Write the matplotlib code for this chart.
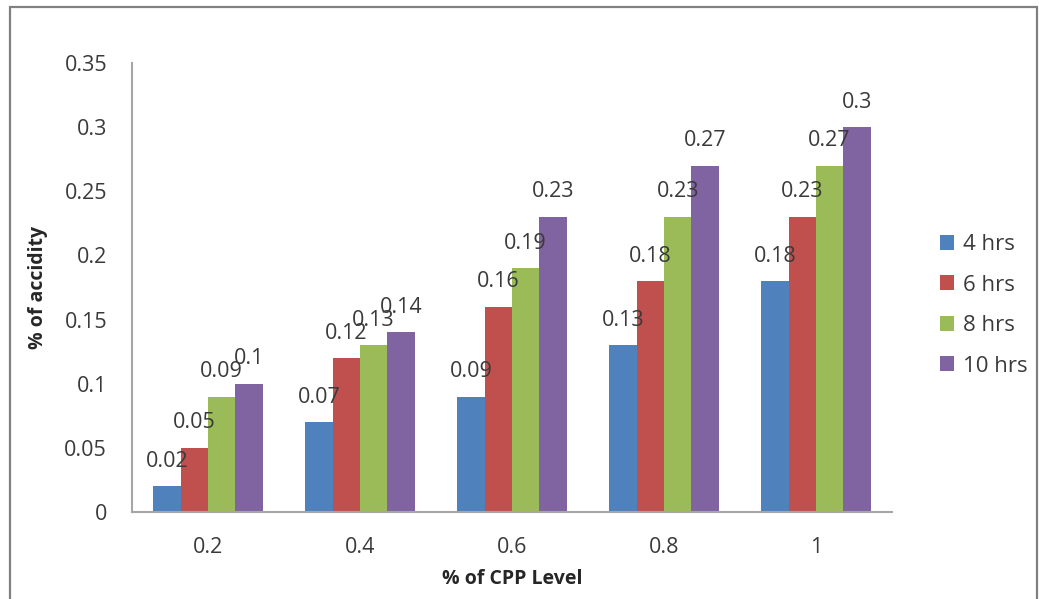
import numpy as np
import matplotlib
matplotlib.use('Agg')
import matplotlib.pyplot as plt
from matplotlib.patches import Rectangle

plt.rcParams['font.family'] = ['Open Sans', 'DejaVu Sans']

cpp_levels = ['0.2', '0.4', '0.6', '0.8', '1']
hours = ['4 hrs', '6 hrs', '8 hrs', '10 hrs']
acid_4h = [0.02, 0.07, 0.09, 0.13, 0.18]
acid_6h = [0.05, 0.12, 0.16, 0.18, 0.23]
acid_8h = [0.09, 0.13, 0.19, 0.23, 0.27]
acid_10h = [0.1, 0.14, 0.23, 0.27, 0.3]
colors = ['#4F81BD', '#C0504D', '#9BBB59', '#8064A2']

series = [acid_4h, acid_6h, acid_8h, acid_10h]
x = np.arange(len(cpp_levels))
w = 0.18
txt = '#3a3a3a'

fig = plt.figure(figsize=(10.39, 5.99), dpi=100)
ax = fig.add_axes([132 / 1039, 1 - 512 / 599, 760 / 1039, 449 / 599])

for i, (vals, name, c) in enumerate(zip(series, hours, colors)):
    pos = x + (i - 1.5) * w
    bars = ax.bar(pos, vals, w, color=c, label=name)
    for b, v in zip(bars, vals):
        ax.annotate(f'{v:g}', (b.get_x() + b.get_width() / 2, v),
                    xytext=(0, 18), textcoords='offset points',
                    ha='center', va='center', fontsize=15.5, color=txt)

ax.set_xlim(-0.5, len(cpp_levels) - 0.5)
ax.set_ylim(0, 0.35)
ax.set_xticks(x)
ax.set_xticklabels(cpp_levels)
ax.set_yticks(np.arange(0, 0.351, 0.05))
ax.set_yticklabels(['0', '0.05', '0.1', '0.15', '0.2', '0.25', '0.3', '0.35'])
ax.tick_params(axis='both', length=0, labelsize=15.5, labelcolor=txt)
ax.tick_params(axis='y', pad=18)
ax.tick_params(axis='x', pad=18)

for s in ['top', 'right']:
    ax.spines[s].set_visible(False)
for s in ['left', 'bottom']:
    ax.spines[s].set_color('#a6a6a6')
    ax.spines[s].set_linewidth(1.5)

ax.set_xlabel('% of CPP Level', fontsize=14, fontweight='bold', color='#262626')
ax.set_ylabel('% of accidity', fontsize=14, fontweight='bold', color='#262626')
ax.xaxis.set_label_coords(0.5, -0.128)
ax.yaxis.set_label_coords(-0.11, 0.5)

ax.legend(loc='upper left', bbox_to_anchor=(920 / 1039, 1 - 214 / 599),
          bbox_transform=fig.transFigure, frameon=False, fontsize=16,
          handlelength=0.65, handleheight=0.65, handletextpad=0.4,
          labelspacing=0.88, labelcolor=txt)

# outer frame
fig.patches.append(Rectangle((10 / 1039, -0.1), 1027 / 1039, 1.1 - 7 / 599,
                             transform=fig.transFigure, fill=False,
                             edgecolor='#808080', linewidth=1.6))

fig.savefig('out.png', dpi=100)
